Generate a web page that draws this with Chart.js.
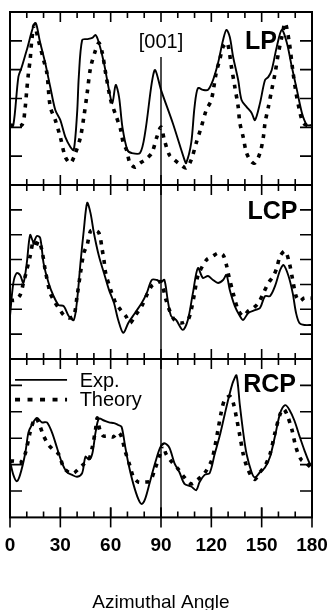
<!DOCTYPE html>
<html>
<head>
<meta charset="utf-8">
<script src="https://cdn.jsdelivr.net/npm/chart.js@4.4.1/dist/chart.umd.min.js"></script>
<style>
html, body { margin: 0; padding: 0; background: #fff; width: 331px; height: 610px; overflow: hidden; }
canvas { position: absolute; left: 0; }
</style>
</head>
<body>
<canvas id="c1" width="331" height="188" style="top:0px"></canvas>
<canvas id="c2" width="331" height="180" style="top:182px"></canvas>
<canvas id="c3" width="331" height="258" style="top:356px"></canvas>
<script>
// ---------- DATA ----------
const xTickLabels = [0, 30, 60, 90, 120, 150, 180];

// LP panel
const lpExpAngle = [0,2,5,7,10,15,18,21,24,27,30,33,36,38,40,41,43,46,49,51,53,56,59,61,63,65,67,70,72.5,77.5,80.5,84.5,86.5,90,97,104,105,108,110,112,115,118,121,124,127,129,131,133,136,138,141,144,146,149,152,154,156,159,162,165,168,171,174,177,180];
const lpExp = [2.08,2.08,3.75,4.09,4.68,5.62,4.93,4.23,3.40,2.60,2.25,1.66,1.32,1.21,2.5,3.75,5.03,5.06,5.10,5.20,4.93,4.23,3.30,2.84,3.47,3.05,2.01,1.21,1.11,1.11,1.80,3.54,3.99,3.30,2.15,0.87,0.76,1.46,2.71,3.36,3.30,3.30,3.64,4.23,5.03,5.38,5.13,4.44,3.64,2.95,2.71,2.50,2.25,2.84,3.64,3.75,3.99,4.79,5.38,4.93,4.09,3.30,2.50,2.08,2.08];
const lpThAngle = [0,7,9,10,11,12,13,14.5,17,20,22,24,27,30,33,36,39,42,44,46,48,51,53,55,57,60,63,66,67.5,69.5,71.5,74.5,77.5,80.5,84.5,87.5,90,92,95,98,102,105,108,111,114,117,120,123,125,127,129.5,132,134,136,137,139,141,144,146,149,151,152,154,156,158,160,162,164,166.5,168.5,170.5,172.5,174.5,176.5,180];
const lpTh = [2.08,2.08,2.67,3.30,3.88,4.34,5.03,5.55,5.0,4.34,3.88,2.71,2.25,1.66,0.97,0.76,1.11,1.66,2.36,3.19,4.06,4.68,4.93,4.58,3.88,2.95,2.43,1.91,1.46,1.21,0.76,0.62,0.76,0.87,1.11,1.66,2.01,1.56,1.04,0.87,0.69,0.59,0.87,1.46,2.01,2.60,2.95,3.92,4.34,4.79,4.93,4.09,3.40,2.71,2.15,1.66,1.11,0.80,0.76,1.11,1.66,2.15,2.71,3.30,3.88,4.58,5.13,5.62,4.93,3.99,3.19,2.60,2.18,2.08,2.08];

// LCP panel
const lcpExpAngle = [0,2,4,6,8,10,12,14,16,18,20,23,26,29,32,35,38,40,42,44,46,48,50,53,56,59,62,64.5,67.5,70.5,74.5,78.5,81.5,84.5,87.5,90,92,94,96,99,103,106,109,112,115,118,121,124,127,129,131,134,137,139,142,146,149,152,155,158,161,163,166,168.5,170.5,172.5,175.5,180];
const lcpExp = [1.73,3.06,3.46,3.38,3.06,3.86,4.99,4.70,4.95,4.87,3.86,3.06,2.53,2.17,2.13,1.73,1.57,2.37,3.86,5.19,6.28,5.87,5.07,4.14,3.46,2.78,2.25,1.57,1.05,1.45,1.85,2.25,2.65,3.18,3.18,3.10,3.18,2.37,1.73,1.57,1.17,1.57,2.65,3.66,3.26,3.34,3.18,3.06,3.18,3.38,2.78,2.13,1.73,1.57,1.85,1.97,2.05,2.53,2.53,2.94,3.58,3.78,3.34,2.65,1.85,1.45,1.37,1.37];
const lcpThAngle = [0,3,6,8,10,12,14,15,17,19,21,24,27,29,32,35,38,40,42,44,46,48,50,53,55,56,57,60,63,66,69,71.5,74.5,78.5,81.5,84.5,87.5,90,93,95,98,102,106,108,110,112,117,121,124,127,129,130,133,136,139,142,145,148,151,154,157,159,161,164,166.5,168.5,170.5,172.5,175.5,180];
const lcpTh = [2.37,2.37,2.57,3.06,3.58,4.14,4.79,4.47,4.75,4.38,3.58,2.65,2.25,2.05,1.77,1.65,1.73,2.53,3.46,4.26,4.59,5.15,5.19,5.07,4.38,3.98,3.46,2.78,2.25,1.97,1.73,1.45,1.73,2.13,2.57,2.94,3.06,3.10,2.37,1.97,1.57,1.45,1.57,1.97,2.65,3.34,3.98,4.14,4.26,4.18,3.78,3.46,2.65,1.97,1.73,1.93,2.05,2.25,2.65,3.06,3.34,3.66,4.14,4.34,3.86,3.18,2.53,2.33,2.45,2.45];

// RCP panel
const rcpExpAngle = [0,2,4,6,9,11,13,16,19,22,25,28,31,34,37,40,43,45,47,49,51,53,56,59,62,64.5,66.5,68.5,70.5,73.5,76.5,78.5,80.5,83.5,86.5,89.5,92,95,98,101,104,108,111,113,116,119,122,125,128,131,133,135,137,139,141,144,146,149,152,155,158,161,164,166.5,169.5,172.5,175.5,178.5,180];
const rcpExp = [2.13,1.61,1.37,1.61,2.40,3.22,3.50,3.77,3.60,3.60,3.22,2.64,2.06,1.71,1.61,1.54,1.68,2.30,2.19,2.40,3.22,3.74,3.67,3.60,3.57,3.50,3.43,2.74,2.06,1.27,0.69,0.51,0.69,1.37,2.06,2.64,2.81,2.64,2.06,1.71,1.27,1.17,1.03,1.34,1.61,1.68,2.40,3.09,3.91,4.70,5.14,5.38,4.25,3.22,2.40,1.71,1.51,1.71,1.89,2.30,3.09,3.94,4.25,4.08,3.67,3.09,2.54,2.06,1.95];
const rcpThAngle = [0,3,6,9,12,15,17,20,23,26,29,32,35,38,41,44,47,49,51,52,53.5,55.5,58.5,61.5,64.5,66.5,68.5,71.5,73.5,76.5,80.5,83.5,86.5,89.5,91,93,96,100,104,108,112,116,120,122,124,126,128,131,133,135,137,139,141,144,146,149,152,155,158,161,163,165,168,170.5,173.5,176.5,180];
const rcpTh = [2.13,2.13,2.06,2.40,3.22,3.77,3.60,3.09,2.75,2.55,2.40,1.89,1.71,1.68,1.85,2.02,2.19,2.64,3.33,3.77,3.33,3.09,3.09,3.05,3.22,3.05,2.54,1.95,1.54,1.34,1.34,1.37,1.85,2.40,2.74,2.40,2.13,1.85,1.51,1.27,1.44,1.68,2.13,2.64,3.33,4.01,4.46,4.59,4.35,3.77,3.09,2.40,1.95,1.54,1.44,1.71,1.95,2.40,3.22,3.91,4.11,3.91,3.33,2.64,2.19,2.06,1.85];

// ---------- RENDERING ----------
const FAMILY = "'Liberation Sans', Arial, Helvetica, sans-serif";
const pts = (xs, ys) => xs.map((x, i) => ({x: x, y: ys[i]}));

function expSet(xs, ys) {
  return {label: 'Exp.', data: pts(xs, ys), borderColor: '#000', borderWidth: 1.9,
          pointRadius: 0, tension: 0.3, fill: false};
}
function thSet(xs, ys) {
  return {label: 'Theory', data: pts(xs, ys), borderColor: '#000', borderWidth: 3.6,
          borderDash: [4, 6], pointRadius: 0, tension: 0.3, fill: false};
}

const framePlugin = {
  id: 'frame',
  beforeDatasetsDraw(chart, args, opts) {
    const {ctx, chartArea: a, scales: {x, y}} = chart;
    ctx.save();
    ctx.strokeStyle = '#000';
    ctx.lineWidth = 1.4;
    const px = x.getPixelForValue(90);
    const top = opts.vFrom != null ? y.getPixelForValue(opts.vFrom) : a.top;
    ctx.beginPath(); ctx.moveTo(px, top); ctx.lineTo(px, a.bottom); ctx.stroke();
    ctx.restore();
  },
  afterDraw(chart, args, opts) {
    const {ctx, chartArea: a, scales: {x, y}} = chart;
    ctx.save();
    ctx.strokeStyle = '#000';
    ctx.fillStyle = '#000';
    // x ticks every 10 degrees, longer at multiples of 30
    ctx.lineWidth = 1.6;
    for (let v = 10; v < 180; v += 10) {
      const px = x.getPixelForValue(v);
      const len = v % 30 === 0 ? 10 : 6;
      ctx.beginPath();
      ctx.moveTo(px, a.top); ctx.lineTo(px, a.top + len);
      ctx.moveTo(px, a.bottom); ctx.lineTo(px, a.bottom - len);
      ctx.stroke();
    }
    if (opts.bottomOut) {
      for (let v = 0; v <= 180; v += 30) {
        const px = x.getPixelForValue(v);
        ctx.beginPath(); ctx.moveTo(px, a.bottom - 10); ctx.lineTo(px, a.bottom + 10); ctx.stroke();
      }
    }
    // y ticks on both sides
    for (let v = 1; v < y.max; v++) {
      const py = y.getPixelForValue(v);
      ctx.beginPath();
      ctx.moveTo(a.left, py); ctx.lineTo(a.left + 12, py);
      ctx.moveTo(a.right, py); ctx.lineTo(a.right - 12, py);
      ctx.stroke();
    }
    // frame
    ctx.lineWidth = 2;
    ctx.strokeRect(a.left, a.top, a.right - a.left, a.bottom - a.top);
    // texts
    ctx.textBaseline = 'middle';
    (opts.texts || []).forEach(t => {
      ctx.font = t.font;
      ctx.textAlign = t.align || 'left';
      ctx.fillText(t.text, x.getPixelForValue(t.x), y.getPixelForValue(t.y));
    });
    // legend
    if (opts.legend) {
      const L = opts.legend;
      const x0 = x.getPixelForValue(L.x0), x1 = x.getPixelForValue(L.x1);
      ctx.lineWidth = 1.8;
      ctx.beginPath(); ctx.moveTo(x0, y.getPixelForValue(L.y1)); ctx.lineTo(x1, y.getPixelForValue(L.y1)); ctx.stroke();
      ctx.lineWidth = 3.8; ctx.setLineDash([5, 7.5]);
      ctx.beginPath(); ctx.moveTo(x0, y.getPixelForValue(L.y2)); ctx.lineTo(x1, y.getPixelForValue(L.y2)); ctx.stroke();
      ctx.setLineDash([]);
      ctx.font = '20px ' + FAMILY;
      ctx.textAlign = 'left';
      ctx.fillText(chart.data.datasets[0].label, x.getPixelForValue(L.tx), y.getPixelForValue(L.y1) + 2);
      ctx.fillText(chart.data.datasets[1].label, x.getPixelForValue(L.tx), y.getPixelForValue(L.y2) + 1);
    }
    ctx.restore();
  }
};

function makeChart(id, datasets, yMax, padding, showX, frameOpts) {
  return new Chart(document.getElementById(id), {
    type: 'line',
    data: {datasets: datasets},
    options: {
      responsive: false, animation: false, devicePixelRatio: 1,
      layout: {padding: padding},
      scales: {
        x: {
          type: 'linear', min: 0, max: 180, display: showX,
          grid: {display: false, drawTicks: false}, border: {display: false},
          afterBuildTicks: s => { s.ticks = xTickLabels.map(v => ({value: v})); },
          afterFit: s => { s.paddingLeft = 0; s.paddingRight = 0; },
          ticks: {color: '#000', padding: 17, maxRotation: 0, autoSkip: false,
                  font: {family: FAMILY, size: 19, weight: 'bold'}},
          title: {display: true, text: 'Azimuthal Angle', color: '#000',
                  font: {family: FAMILY, size: 19}, padding: {top: 17, bottom: 0}}
        },
        y: {min: 0, max: yMax, display: false}
      },
      plugins: {legend: {display: false}, tooltip: {enabled: false}, frame: frameOpts}
    },
    plugins: [framePlugin]
  });
}

makeChart('c1', [expSet(lpExpAngle, lpExp), thSet(lpThAngle, lpTh)], 6,
  {top: 12, bottom: 3, left: 10, right: 19}, false,
  {vFrom: 4.44, texts: [
    {text: '[001]', x: 90, y: 4.96, align: 'center', font: '20px ' + FAMILY},
    {text: 'LP', x: 140, y: 4.96, font: 'bold 25px ' + FAMILY}
  ]});

makeChart('c2', [expSet(lcpExpAngle, lcpExp), thSet(lcpThAngle, lcpTh)], 7,
  {top: 3, bottom: 3, left: 10, right: 19}, false,
  {texts: [{text: 'LCP', x: 141.5, y: 5.91, font: 'bold 25px ' + FAMILY}]});

makeChart('c3', [expSet(rcpExpAngle, rcpExp), thSet(rcpThAngle, rcpTh)], 6,
  {top: 3, bottom: 0, left: 10, right: 19}, true,
  {bottomOut: true,
   texts: [{text: 'RCP', x: 139, y: 5.0, font: 'bold 25px ' + FAMILY}],
   legend: {x0: 3, x1: 34, tx: 41.5, y1: 5.21, y2: 4.46}});
</script>
</body>
</html>
